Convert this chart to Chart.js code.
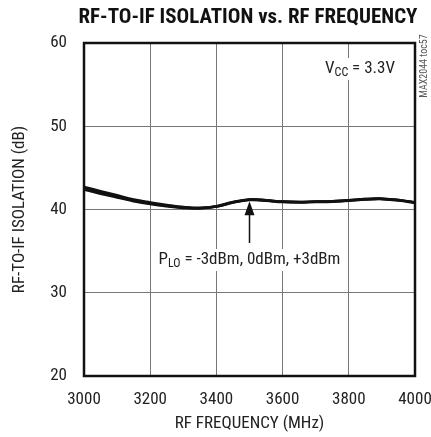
<!DOCTYPE html>
<html>
<head>
<meta charset="utf-8">
<script src="https://cdn.jsdelivr.net/npm/chart.js@4.4.0/dist/chart.umd.min.js"></script>
<style>
  html, body { margin: 0; padding: 0; background: #fff; }
</style>
</head>
<body>
<canvas id="chartIsolation" width="431" height="437"></canvas>
<script>
// RF frequency (MHz) and isolation (dB) for the three LO drive levels
const frequencies = [3000, 3050, 3100, 3150, 3200, 3250, 3300, 3350, 3400, 3450, 3500,
  3550, 3600, 3650, 3700, 3750, 3800, 3850, 3900, 3950, 4000];
const isolationM3 = [42.7, 42.2, 41.7, 41.2, 40.85, 40.55, 40.3, 40.2, 40.4, 40.9, 41.2,
  41.1, 40.95, 40.9, 40.95, 41.0, 41.1, 41.25, 41.3, 41.15, 40.85];
const isolation0 = [42.55, 42.05, 41.55, 41.1, 40.75, 40.45, 40.25, 40.15, 40.35, 40.85, 41.2,
  41.1, 40.95, 40.9, 40.95, 41.0, 41.1, 41.25, 41.3, 41.15, 40.85];
const isolationP3 = [42.4, 41.9, 41.45, 41.0, 40.65, 40.4, 40.2, 40.15, 40.35, 40.85, 41.15,
  41.05, 40.9, 40.85, 40.9, 40.95, 41.05, 41.2, 41.25, 41.1, 40.8];
const xTicks = [3000, 3200, 3400, 3600, 3800, 4000];
const yTicks = [20, 30, 40, 50, 60];

const FONT = "'Roboto Condensed', 'Liberation Sans', sans-serif";

const toPoints = (values) => values.map((v, i) => ({ x: frequencies[i], y: v }));

const lineSet = (values) => ({
  data: toPoints(values),
  borderColor: '#111',
  borderWidth: 2.6,
  pointRadius: 0,
  tension: 0.4,
  fill: false,
});

// text with a subscript after the first letter, on a white box
const subLabel = (ctx, cx, y, main, sub, rest) => {
  ctx.font = `17px ${FONT}`;
  const wMain = ctx.measureText(main).width;
  const wRest = ctx.measureText(rest).width;
  ctx.font = `12px ${FONT}`;
  const wSub = ctx.measureText(sub).width;
  const total = wMain + wSub + wRest;
  const x = cx - total / 2;
  ctx.fillStyle = '#fff';
  ctx.fillRect(x - 3, y - 15, total + 6, 22);
  ctx.fillStyle = '#222';
  ctx.textAlign = 'left';
  ctx.textBaseline = 'alphabetic';
  ctx.font = `17px ${FONT}`;
  ctx.fillText(main, x, y);
  ctx.font = `12px ${FONT}`;
  ctx.fillText(sub, x + wMain, y + 3);
  ctx.font = `17px ${FONT}`;
  ctx.fillText(rest, x + wMain + wSub, y);
};

const decorations = {
  id: 'decorations',
  afterDatasetsDraw(chart) {
    const { ctx, scales } = chart;
    const xs = scales.x;
    const ys = scales.y;
    ctx.save();

    subLabel(ctx, 360, 73, 'V', 'CC', ' = 3.3V');

    const ax = xs.getPixelForValue(3500);
    subLabel(ctx, ax, 264, 'P', 'LO', ' = -3dBm, 0dBm, +3dBm');

    // arrow pointing at the curves
    const tipY = ys.getPixelForValue(41.0);
    ctx.strokeStyle = '#111';
    ctx.lineWidth = 1.5;
    ctx.beginPath();
    ctx.moveTo(ax, tipY + 12);
    ctx.lineTo(ax, 243);
    ctx.stroke();
    ctx.fillStyle = '#111';
    ctx.beginPath();
    ctx.moveTo(ax, tipY);
    ctx.lineTo(ax - 5, tipY + 14);
    ctx.lineTo(ax + 5, tipY + 14);
    ctx.closePath();
    ctx.fill();

    ctx.restore();
  },
  afterDraw(chart) {
    const { ctx, chartArea } = chart;
    ctx.save();
    ctx.strokeStyle = '#111';
    ctx.lineWidth = 2.5;
    ctx.strokeRect(chartArea.left, chartArea.top, chartArea.right - chartArea.left, chartArea.bottom - chartArea.top);

    // title
    ctx.fillStyle = '#111';
    ctx.textAlign = 'center';
    ctx.textBaseline = 'middle';
    ctx.font = `bold 21px ${FONT}`;
    const title = 'RF-TO-IF ISOLATION vs. RF FREQUENCY';
    const tw = ctx.measureText(title).width;
    ctx.translate(248, 18);
    ctx.scale(Math.min(1, 339 / tw), 1);
    ctx.fillText(title, 0, 0);
    ctx.restore();

    // figure code
    ctx.save();
    ctx.translate(424, 66);
    ctx.rotate(-Math.PI / 2);
    ctx.textAlign = 'center';
    ctx.textBaseline = 'middle';
    ctx.font = `10px ${FONT}`;
    ctx.fillStyle = '#555';
    ctx.fillText('MAX2044 toc57', 0, 0);
    ctx.restore();
  },
};

const canvas = document.getElementById('chartIsolation');

const chartIsolation = new Chart(canvas, {
  type: 'line',
  data: {
    datasets: [lineSet(isolationM3), lineSet(isolation0), lineSet(isolationP3)],
  },
  options: {
    responsive: false,
    animation: false,
    layout: {
      padding: { top: 43, right: 16, left: 0, bottom: 0 },
    },
    plugins: {
      legend: { display: false },
      tooltip: { enabled: false },
    },
    scales: {
      x: {
        type: 'linear',
        min: 3000,
        max: 4000,
        afterFit: (scale) => {
          scale.height = 61;
          scale.paddingLeft = 0;
          scale.paddingRight = 0;
        },
        afterBuildTicks: (scale) => {
          scale.ticks = xTicks.map((v) => ({ value: v }));
        },
        ticks: {
          padding: 14,
          color: '#222',
          font: { family: FONT, size: 17 },
          maxRotation: 0,
          callback: (v) => String(v),
        },
        grid: { color: '#777', lineWidth: 1, drawTicks: false },
        border: { display: false },
        title: {
          display: true,
          text: 'RF FREQUENCY (MHz)',
          color: '#222',
          font: { family: FONT, size: 17 },
          padding: { top: 0, bottom: 3 },
        },
      },
      y: {
        min: 20,
        max: 60,
        afterFit: (scale) => {
          scale.width = 84;
          scale.paddingTop = 0;
          scale.paddingBottom = 0;
        },
        afterBuildTicks: (scale) => {
          scale.ticks = yTicks.map((v) => ({ value: v }));
        },
        ticks: {
          padding: 17,
          color: '#222',
          font: { family: FONT, size: 17 },
          callback: (v) => String(v),
        },
        grid: { color: '#777', lineWidth: 1, drawTicks: false },
        border: { display: false },
        title: {
          display: true,
          text: 'RF-TO-IF ISOLATION (dB)',
          color: '#222',
          font: { family: FONT, size: 17 },
          padding: { top: 10, bottom: 0 },
        },
      },
    },
  },
  plugins: [decorations],
});

chartIsolation.update();
</script>
</body>
</html>
